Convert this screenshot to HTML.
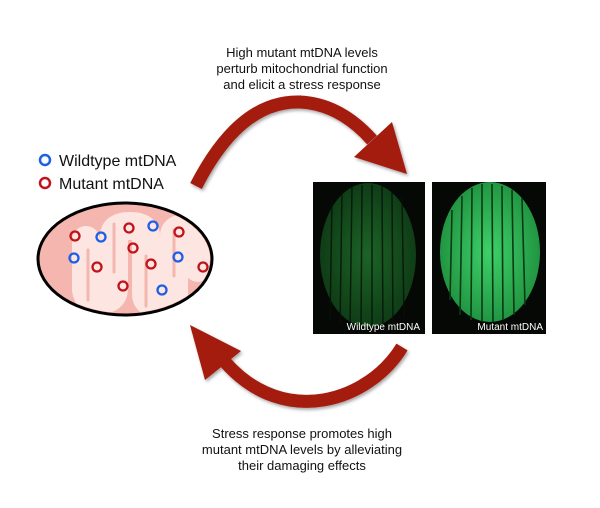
<!DOCTYPE html>
<html><head><style>
body{margin:0;background:#fff;}
svg{display:block;font-family:"Liberation Sans",Arial,sans-serif;}
</style></head><body>
<svg width="600" height="508" viewBox="0 0 600 508">
<defs>
<filter id="sh" x="-10%" y="-10%" width="130%" height="130%"><feDropShadow dx="1.5" dy="2" stdDeviation="1.5" flood-color="#000" flood-opacity="0.35"/></filter>
<radialGradient id="g1" cx="50%" cy="50%" r="60%"><stop offset="0" stop-color="#1f6e2a"/><stop offset="1" stop-color="#0d3a15"/></radialGradient>
<radialGradient id="g2" cx="50%" cy="50%" r="60%"><stop offset="0" stop-color="#3ed06a"/><stop offset="1" stop-color="#1c8a3a"/></radialGradient>
<clipPath id="ell"><ellipse cx="125" cy="259" rx="85" ry="54"/></clipPath>
</defs>
<g font-size="13" fill="#111" text-anchor="middle">
<text x="302" y="57">High mutant mtDNA levels</text>
<text x="302" y="73">perturb mitochondrial function</text>
<text x="302" y="89">and elicit a stress response</text>
<text x="302" y="438">Stress response promotes high</text>
<text x="302" y="454">mutant mtDNA levels by alleviating</text>
<text x="302" y="470">their damaging effects</text>
</g>
<g filter="url(#sh)" fill="#a31a0c">
<path d="M196,186 Q240,100 300,102 Q340,104 372,140" fill="none" stroke="#a31a0c" stroke-width="13"/>
<polygon points="407,174 354,157 392,122"/>
<path d="M402,347 C370,400 285,430 225,362" fill="none" stroke="#a31a0c" stroke-width="13"/>
<polygon points="190,325 241,351 205,380"/>
</g>
<circle cx="45" cy="160" r="5" fill="none" stroke="#1d5fe6" stroke-width="2.5"/>
<text x="59" y="166" font-size="16" fill="#111">Wildtype mtDNA</text>
<circle cx="45" cy="183" r="5" fill="none" stroke="#c0141c" stroke-width="2.5"/>
<text x="59" y="189" font-size="16" fill="#111">Mutant mtDNA</text>
<ellipse cx="125" cy="259" rx="87" ry="56" fill="#f4b6ae" stroke="#000" stroke-width="3"/>
<g clip-path="url(#ell)">
<path d="M86,240 L86,288 Q86,300 100,300 Q114,300 114,288 L114,236 Q114,226 130,226 Q146,226 146,236 L146,294 Q146,304 160,304 Q174,304 174,294 L174,236 Q174,228 186,228 Q198,228 198,240 L198,268" fill="none" stroke="#fde6e2" stroke-width="28" stroke-linecap="round" stroke-linejoin="round"/>
<g stroke="#f4b6ae" stroke-width="3" stroke-linecap="round">
<line x1="88" y1="250" x2="88" y2="300"/><line x1="114" y1="224" x2="114" y2="272"/><line x1="146" y1="256" x2="146" y2="306"/><line x1="174" y1="230" x2="174" y2="276"/>
</g>
</g>
<g fill="none" stroke-width="2.3">
<circle cx="75" cy="236" r="4.5" stroke="#c0141c"/>
<circle cx="101" cy="237" r="4.5" stroke="#1d5fe6"/>
<circle cx="74" cy="258" r="4.5" stroke="#1d5fe6"/>
<circle cx="97" cy="267" r="4.5" stroke="#c0141c"/>
<circle cx="129" cy="228" r="4.5" stroke="#c0141c"/>
<circle cx="153" cy="226" r="4.5" stroke="#1d5fe6"/>
<circle cx="133" cy="248" r="4.5" stroke="#c0141c"/>
<circle cx="151" cy="264" r="4.5" stroke="#c0141c"/>
<circle cx="123" cy="286" r="4.5" stroke="#c0141c"/>
<circle cx="162" cy="290" r="4.5" stroke="#1d5fe6"/>
<circle cx="179" cy="232" r="4.5" stroke="#c0141c"/>
<circle cx="178" cy="257" r="4.5" stroke="#1d5fe6"/>
<circle cx="203" cy="267" r="4.5" stroke="#c0141c"/>
</g>
<rect x="313" y="182" width="112" height="152" fill="#050805"/>
<ellipse cx="368" cy="255" rx="48" ry="72" fill="url(#g1)" opacity="0.9"/>
<g stroke="#061208" stroke-width="1.5" opacity="0.8">
<line x1="332" y1="200" x2="330" y2="320"/><line x1="342" y1="190" x2="340" y2="325"/><line x1="352" y1="186" x2="350" y2="328"/><line x1="362" y1="185" x2="361" y2="330"/><line x1="372" y1="185" x2="372" y2="330"/><line x1="382" y1="186" x2="383" y2="328"/><line x1="392" y1="190" x2="393" y2="325"/><line x1="402" y1="196" x2="404" y2="318"/>
</g>
<rect x="432" y="182" width="114" height="152" fill="#050805"/>
<ellipse cx="490" cy="252" rx="50" ry="70" fill="url(#g2)"/>
<g stroke="#0a3a14" stroke-width="1.6">
<line x1="452" y1="210" x2="450" y2="300"/><line x1="462" y1="196" x2="460" y2="315"/><line x1="472" y1="188" x2="471" y2="320"/><line x1="482" y1="184" x2="482" y2="322"/><line x1="492" y1="184" x2="493" y2="322"/><line x1="502" y1="186" x2="503" y2="320"/><line x1="512" y1="190" x2="514" y2="315"/><line x1="522" y1="198" x2="525" y2="305"/>
</g>
<text x="420" y="330" font-size="10" fill="#fff" text-anchor="end">Wildtype mtDNA</text>
<text x="543" y="330" font-size="10" fill="#fff" text-anchor="end">Mutant mtDNA</text>
</svg>
</body></html>
